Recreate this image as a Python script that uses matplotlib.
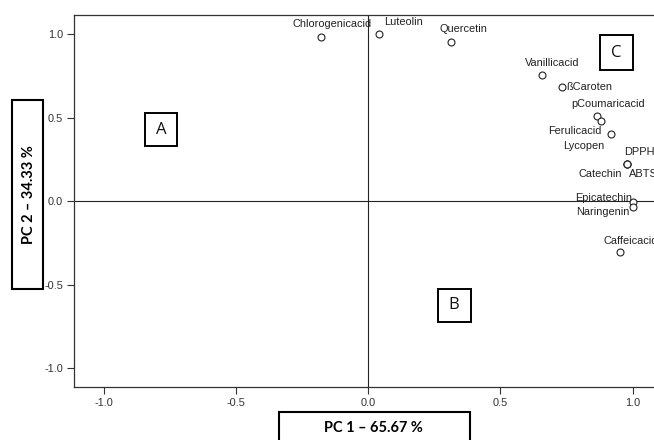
import matplotlib
matplotlib.use("Agg")
import matplotlib.pyplot as plt
from matplotlib.patches import Rectangle
from matplotlib.ticker import FuncFormatter

# component loadings
compounds = ['Chlorogenicacid', 'Luteolin', 'Quercetin', 'Vanillicacid', 'ßCaroten',
             'pCoumaricacid', 'Lycopen', 'Ferulicacid', 'DPPH', 'Catechin', 'ABTS',
             'Epicatechin', 'Naringenin', 'Caffeicacid']
pc1 = [-0.179, 0.040, 0.313, 0.656, 0.732, 0.864, 0.880, 0.917, 0.978, 0.978, 0.978,
       1.003, 1.003, 0.953]
pc2 = [0.984, 1.002, 0.950, 0.756, 0.682, 0.507, 0.477, 0.404, 0.223, 0.223, 0.223,
       -0.004, -0.038, -0.306]
ticks = [-1.0, -0.5, 0.0, 0.5, 1.0]
x_title = "PC 1 – 65.67 %"
y_title = "PC 2 – 34.33 %"
groups = ['A', 'B', 'C']

# label placement (pixel offsets from the point, alignment)
label_pos = {
    'Chlorogenicacid': (11, 12.7, 'center'),
    'Luteolin': (25, 11.7, 'center'),
    'Quercetin': (12, 13, 'center'),
    'Vanillicacid': (11, 11.6, 'center'),
    'ßCaroten': (4, 0, 'left'),
    'pCoumaricacid': (11.5, 12.3, 'center'),
    'Lycopen': (-17, -24.7, 'center'),
    'Ferulicacid': (-8.7, 2.6, 'right'),
    'DPPH': (-2.4, 12, 'left'),
    'Catechin': (-26.7, -10, 'center'),
    'ABTS': (2.6, -10, 'left'),
    'Epicatechin': (-1.3, 3.7, 'right'),
    'Naringenin': (-4.3, -5, 'right'),
    'Caffeicacid': (-17, 11.3, 'left'),
}

W, H = 654, 440
fig = plt.figure(figsize=(W / 100, H / 100), dpi=100)
ax = fig.add_axes([74.3 / W, (H - 386.7) / H, 590 / W, (386.7 - 15) / H])
ax.set_xlim(-1.1125, 1.12)
ax.set_ylim(-1.112, 1.114)

ax.axvline(0, color='#222222', lw=0.8, zorder=1)
ax.axhline(0, color='#222222', lw=0.8, zorder=1)

ax.plot(pc1, pc2, 'o', ms=5, mfc='white', mec='#222222', mew=0.8, zorder=3)

for name, x, y in zip(compounds, pc1, pc2):
    dx, dy, ha = label_pos[name]
    ax.annotate(name, (x, y), xytext=(dx, dy), textcoords='offset pixels',
                ha=ha, va='center', fontsize=7.9, family='Liberation Sans',
                color='#222222', zorder=4, annotation_clip=False)

ax.set_xticks(ticks)
ax.set_yticks(ticks)
fmt = FuncFormatter(lambda v, p: f"{v:.1f}".replace('−', '-'))
ax.xaxis.set_major_formatter(fmt)
ax.yaxis.set_major_formatter(fmt)
ax.tick_params(length=5, width=0.8, color='#333333', labelsize=7.9,
               labelcolor='#333333', pad=3)
for lab in ax.get_xticklabels() + ax.get_yticklabels():
    lab.set_family('Liberation Sans')
for s in ax.spines.values():
    s.set_color('#333333')
    s.set_linewidth(0.9)


def px_box(x0, y0, x1, y1, lw):
    # rectangle given in image pixels (top-left origin)
    r = Rectangle((x0 / W, 1 - y1 / H), (x1 - x0) / W, (y1 - y0) / H,
                  transform=fig.transFigure, fill=False, ec='black', lw=lw,
                  clip_on=False)
    fig.patches.append(r)


# group boxes A, B, C
boxes = [(145, 113, 177, 146), (437.5, 288.5, 470.5, 322), (600, 35, 632.5, 70)]
for g, (x0, y0, x1, y1) in zip(groups, boxes):
    px_box(x0, y0, x1, y1, 1.4)
    fig.text((x0 + x1) / 2 / W, 1 - (y0 + y1) / 2 / H, g, ha='center',
             va='center', fontsize=12, family='Open Sans', color='#111111')

# axis title boxes
px_box(278.5, 411.7, 469.5, 445, 1.5)
fig.text(373.5 / W, 1 - 427.5 / H, x_title, ha='center', va='center',
         fontsize=10.5, fontweight='bold', family='Lato')
px_box(12, 100, 43, 289, 1.5)
fig.text(29 / W, 1 - 194.5 / H, y_title, ha='center', va='center',
         rotation=90, fontsize=10.5, fontweight='bold', family='Lato')

fig.savefig('out.png', dpi=100)
